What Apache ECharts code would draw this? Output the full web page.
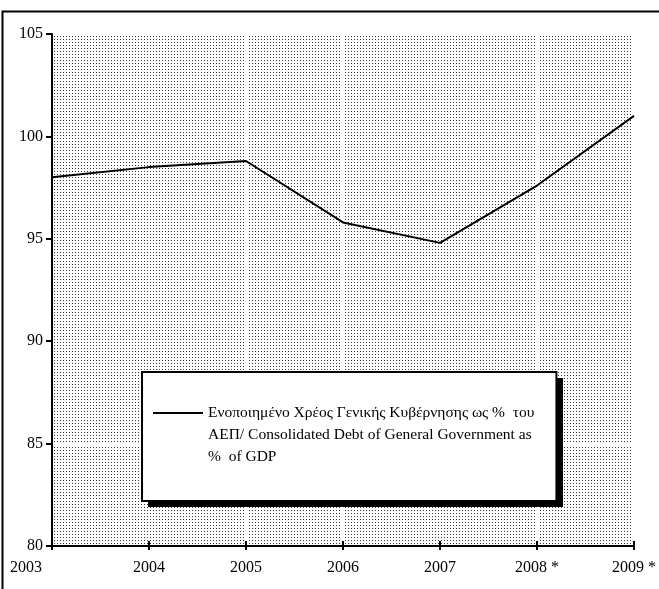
<!DOCTYPE html>
<html>
<head>
<meta charset="utf-8">
<script src="https://cdn.jsdelivr.net/npm/echarts@6/dist/echarts.min.js"></script>
<style>
html,body{margin:0;padding:0;background:#fff;}
#chart{width:659px;height:589px;}
</style>
</head>
<body>
<div id="chart"></div>
<script>
const categories = ['2003', '2004', '2005', '2006', '2007', '2008 *', '2009 *'];
const debtValues = [98.0, 98.5, 98.8, 95.8, 94.8, 97.6, 101.0];
const yTicks = [80, 85, 90, 95, 100, 105];
const seriesName = 'Ενοποιημένο Χρέος Γενικής Κυβέρνησης ως %  του ΑΕΠ/ Consolidated Debt of General Government as % of GDP';
const legendLines = ['Ενοποιημένο Χρέος Γενικής Κυβέρνησης ως %  του', 'ΑΕΠ/ Consolidated Debt of General Government as', '%  of GDP'];

// dotted pattern for the plot background
const pat = document.createElement('canvas');
pat.width = 3; pat.height = 3;
const pctx = pat.getContext('2d');
pctx.fillStyle = '#ffffff';
pctx.fillRect(0, 0, 3, 3);
pctx.fillStyle = '#3a3a3a';
pctx.fillRect(0, 0, 1, 1);

const FONT = 'Liberation Serif';
const chart = echarts.init(document.getElementById('chart'), null, {renderer: 'canvas'});
chart.setOption({
  backgroundColor: '#ffffff',
  animation: false,
  grid: {
    left: 52, right: 21, top: 34, bottom: 43,
    show: true,
    backgroundColor: {image: pat, repeat: 'repeat'},
    borderWidth: 0
  },
  xAxis: [{
    type: 'category',
    data: categories,
    boundaryGap: false,
    axisLine: {show: true, lineStyle: {color: '#000', width: 2}},
    axisTick: {show: true, inside: false, length: 4, interval: 0, lineStyle: {color: '#000', width: 2}},
    axisLabel: {
      color: '#000', fontFamily: FONT, fontSize: 16, margin: 14, interval: 0, hideOverlap: false,
      formatter: (v, i) => i === 0 ? '{first|' + v + '}' : v,
      rich: {first: {fontFamily: FONT, fontSize: 16, color: '#000', padding: [0, 52, 0, 0]}}
    },
    splitLine: {show: true, interval: 0, lineStyle: {color: '#fff', width: 2}}
  }, {
    type: 'category',
    data: categories,
    boundaryGap: false,
    position: 'bottom',
    axisLine: {show: false},
    axisTick: {show: true, inside: true, length: 5, interval: 0, lineStyle: {color: '#000', width: 2}},
    axisLabel: {show: false},
    splitLine: {show: false}
  }],
  yAxis: {
    type: 'value',
    min: yTicks[0],
    max: yTicks[yTicks.length - 1],
    interval: 5,
    axisLine: {show: true, lineStyle: {color: '#000', width: 2}},
    axisTick: {show: true, inside: false, length: 6, lineStyle: {color: '#000', width: 2}},
    axisLabel: {color: '#000', fontFamily: FONT, fontSize: 16, margin: 9},
    splitLine: {show: true, lineStyle: {color: '#fff', width: 2}}
  },
  legend: {
    left: 142, top: 372,
    orient: 'vertical',
    backgroundColor: '#fff',
    borderColor: '#000',
    borderWidth: 2,
    padding: [30, 22, 33, 11],
    itemWidth: 50,
    itemHeight: 66,
    itemGap: 0,
    icon: 'path://M0,0 L0.01,0 Z M0,10 H50 V12 H0 Z M0,66 L0.01,66 Z',
    itemStyle: {color: '#000', borderWidth: 0},
    selectedMode: false,
    data: [seriesName],
    formatter: () => legendLines.join('\n'),
    textStyle: {color: '#000', fontFamily: FONT, fontSize: 15.5, lineHeight: 22}
  },
  series: [{
    name: seriesName,
    type: 'line',
    data: debtValues,
    symbol: 'none',
    showSymbol: false,
    lineStyle: {color: '#000', width: 2},
    itemStyle: {color: '#000'}
  }],
  graphic: [{
    type: 'rect',
    shape: {x: 148, y: 378, width: 415, height: 129},
    style: {fill: '#000'},
    silent: true,
    z: 1
  }, {
    type: 'rect',
    shape: {x: 2.5, y: 11.5, width: 680, height: 620},
    style: {fill: 'none', stroke: '#000', lineWidth: 2},
    silent: true,
    z: 100
  }]
});
</script>
</body>
</html>
